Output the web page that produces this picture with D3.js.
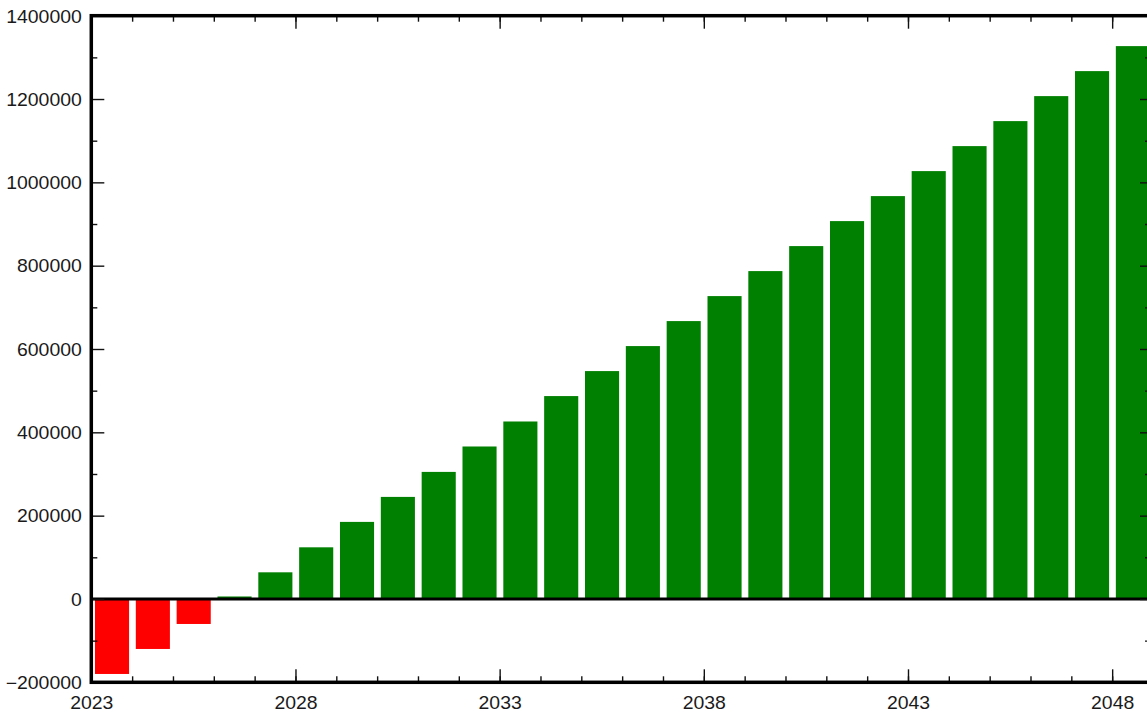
<!DOCTYPE html>
<html>
<head>
<meta charset="utf-8">
<script src="https://cdn.jsdelivr.net/npm/d3@7"></script>
<style>
  html, body { margin: 0; padding: 0; background: #fff; overflow: hidden; }
  svg { display: block; }
  text { font-family: "Liberation Sans", Arial, sans-serif; font-size: 17.5px; fill: #1a1a1a; }
</style>
</head>
<body>
<svg id="chart" width="1147" height="712"></svg>
<script>
// ---- data ----
const years = [2023,2024,2025,2026,2027,2028,2029,2030,2031,2032,2033,2034,2035,2036,2037,2038,2039,2040,2041,2042,2043,2044,2045,2046,2047,2048];
const values = [-180000,-120000,-60000,6000,64000,124000,185000,245000,305000,366000,426000,487000,547000,607000,667000,727000,787000,847000,907000,967000,1027000,1087000,1147000,1207000,1267000,1327000];
const xMajorTicks = [2023,2028,2033,2038,2043,2048];
const xMinorTicks = [2023,2024,2025,2026,2027,2028,2029,2030,2031,2032,2033,2034,2035,2036,2037,2038,2039,2040,2041,2042,2043,2044,2045,2046,2047,2048,2049];
const yMajorTicks = [-200000,0,200000,400000,600000,800000,1000000,1200000,1400000];
const yMinorTicks = [-100000,100000,300000,500000,700000,900000,1100000,1300000];
const xDomain = [2023, 2049];
const yDomain = [-200000, 1400000];

// ---- layout ----
const mLeft = 91.3, mRight = 1153, mTop = 15.7, mBottom = 682.3;
const svg = d3.select("#chart");

const x = d3.scaleLinear().domain(xDomain).range([mLeft, mRight]);
const y = d3.scaleLinear().domain(yDomain).range([mBottom, mTop]);

// bars
svg.append("g").selectAll("rect").data(years).join("rect")
  .attr("x", (d) => x(d + 0.09))
  .attr("width", (d) => x(d + 0.925) - x(d + 0.09))
  .attr("y", (d, i) => y(Math.max(0, values[i])))
  .attr("height", (d, i) => Math.abs(y(values[i]) - y(0)))
  .attr("fill", (d, i) => values[i] < 0 ? "#ff0000" : "#008000");

// zero line
svg.append("line")
  .attr("x1", x(xDomain[0])).attr("x2", x(xDomain[1]))
  .attr("y1", y(0)).attr("y2", y(0))
  .attr("stroke", "#000").attr("stroke-width", 3);

function styleAxis(g) {
  g.select(".domain").remove();
  g.selectAll(".tick line").attr("stroke", "#111").attr("stroke-width", 1.4);
}

const scaleX = 1.11;

// bottom axis: major with labels
const gB = svg.append("g").attr("transform", `translate(0,${mBottom})`)
  .call(d3.axisBottom(x).tickValues(xMajorTicks).tickFormat(d3.format("d"))
    .tickSizeInner(-13).tickSizeOuter(0).tickPadding(0));
styleAxis(gB);
gB.selectAll(".tick text").attr("y", null).attr("dy", null)
  .attr("transform", `translate(0,27) scale(${scaleX},1)`);
// bottom minor
styleAxis(svg.append("g").attr("transform", `translate(0,${mBottom})`)
  .call(d3.axisBottom(x).tickValues(xMinorTicks).tickFormat("").tickSizeInner(-6).tickSizeOuter(0)));

// top axis ticks
styleAxis(svg.append("g").attr("transform", `translate(0,${mTop})`)
  .call(d3.axisTop(x).tickValues(xMajorTicks).tickFormat("").tickSizeInner(-13).tickSizeOuter(0)));
styleAxis(svg.append("g").attr("transform", `translate(0,${mTop})`)
  .call(d3.axisTop(x).tickValues(xMinorTicks).tickFormat("").tickSizeInner(-6).tickSizeOuter(0)));

// left axis
const gL = svg.append("g").attr("transform", `translate(${mLeft},0)`)
  .call(d3.axisLeft(y).tickValues(yMajorTicks).tickFormat(d3.format("d"))
    .tickSizeInner(-13).tickSizeOuter(0).tickPadding(0));
styleAxis(gL);
gL.selectAll(".tick text").attr("x", null).attr("dy", "0.36em")
  .attr("text-anchor", "end")
  .attr("transform", `translate(-9.5,0) scale(${scaleX},1)`);
styleAxis(svg.append("g").attr("transform", `translate(${mLeft},0)`)
  .call(d3.axisLeft(y).tickValues(yMinorTicks).tickFormat("").tickSizeInner(-6).tickSizeOuter(0)));

// right axis ticks
styleAxis(svg.append("g").attr("transform", `translate(${mRight},0)`)
  .call(d3.axisRight(y).tickValues(yMajorTicks).tickFormat("").tickSizeInner(-13).tickSizeOuter(0)));
styleAxis(svg.append("g").attr("transform", `translate(${mRight},0)`)
  .call(d3.axisRight(y).tickValues(yMinorTicks).tickFormat("").tickSizeInner(-8).tickSizeOuter(0)));

// frame
svg.append("rect")
  .attr("x", x(xDomain[0])).attr("y", y(yDomain[1]))
  .attr("width", x(xDomain[1]) - x(xDomain[0]))
  .attr("height", y(yDomain[0]) - y(yDomain[1]))
  .attr("fill", "none").attr("stroke", "#000").attr("stroke-width", 3.5);
</script>
</body>
</html>
